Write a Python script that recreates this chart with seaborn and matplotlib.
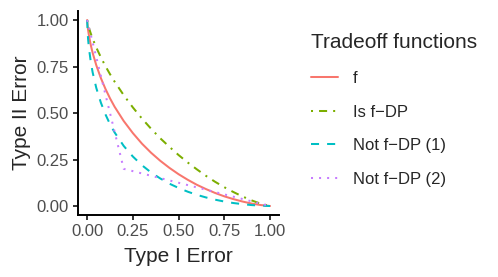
import matplotlib
matplotlib.use("Agg")
import matplotlib.pyplot as plt
import seaborn as sns
import pandas as pd

# values
grid = [0, 0.005, 0.01, 0.02, 0.03, 0.05, 0.075, 0.1, 0.125, 0.15, 0.2, 0.25, 0.3,
        0.35, 0.4, 0.45, 0.5, 0.55, 0.6, 0.65, 0.7, 0.75, 0.8, 0.85, 0.9, 0.95, 1.0]
f_vals = [1.0, 0.948, 0.916, 0.865, 0.824, 0.757, 0.688, 0.630, 0.579, 0.534, 0.457,
          0.392, 0.335, 0.286, 0.243, 0.205, 0.171, 0.141, 0.114, 0.091, 0.070, 0.052,
          0.037, 0.024, 0.013, 0.005, 0.0]
is_vals = [1.0, 0.976, 0.958, 0.927, 0.900, 0.852, 0.800, 0.752, 0.709, 0.669, 0.596,
           0.530, 0.470, 0.415, 0.364, 0.318, 0.274, 0.234, 0.197, 0.162, 0.130, 0.101,
           0.075, 0.051, 0.030, 0.012, 0.0]
not1_vals = [1.0, 0.899, 0.848, 0.775, 0.719, 0.635, 0.556, 0.493, 0.440, 0.396, 0.323,
             0.266, 0.219, 0.180, 0.148, 0.120, 0.097, 0.077, 0.060, 0.046, 0.034, 0.024,
             0.016, 0.010, 0.005, 0.002, 0.0]
not2_x = [0.0, 0.2, 1.0]
not2_vals = [1.0, 0.2, 0.0]

names = ["f", "Is f\u2212DP", "Not f\u2212DP (1)", "Not f\u2212DP (2)"]
colors = ["#F8766D", "#7CAE00", "#00BFC4", "#C77CFF"]
dash_styles = ["", (1, 3, 4, 3), (4, 4), (1, 3)]
ticks = [0, 0.25, 0.5, 0.75, 1.0]
tick_labels = ["0.00", "0.25", "0.50", "0.75", "1.00"]

frames = []
for name, xs, ys in [(names[0], grid, f_vals), (names[1], grid, is_vals),
                     (names[2], grid, not1_vals), (names[3], not2_x, not2_vals)]:
    frames.append(pd.DataFrame({"alpha": xs, "beta": ys, "curve": name}))
df = pd.concat(frames, ignore_index=True)

sns.set_style("ticks")
plt.rcParams["font.family"] = ["Liberation Sans", "DejaVu Sans"]

fig = plt.figure(figsize=(4.98, 2.77), dpi=100)
ax = fig.add_axes([0.1566, 0.2227, 0.4040, 0.7386])

sns.lineplot(data=df, x="alpha", y="beta", hue="curve", style="curve",
             hue_order=names, style_order=names,
             palette=dict(zip(names, colors)), dashes=dict(zip(names, dash_styles)),
             estimator=None, linewidth=1.45, ax=ax)

ax.set_xlim(-0.05, 1.05)
ax.set_ylim(-0.05, 1.05)
ax.set_xticks(ticks)
ax.set_xticklabels(tick_labels)
ax.set_yticks(ticks)
ax.set_yticklabels(tick_labels)
ax.set_xlabel("Type I Error", fontsize=15, labelpad=5.5)
ax.set_ylabel("Type II Error", fontsize=15, labelpad=4)
ax.tick_params(axis="both", labelsize=12, labelcolor="#4D4D4D", color="#333333",
               length=3.75, width=1.4)
ax.tick_params(axis="x", pad=2.5)
ax.tick_params(axis="y", pad=3)
for side in ["left", "bottom"]:
    ax.spines[side].set_linewidth(1.4)
    ax.spines[side].set_color("black")
sns.despine(ax=ax)

sns.move_legend(ax, loc="upper left", bbox_to_anchor=(0.625, 0.88),
                bbox_transform=fig.transFigure, frameon=False,
                title="Tradeoff functions", title_fontsize=15, fontsize=12,
                handlelength=1.6, handletextpad=0.9, labelspacing=1.12,
                borderpad=0, borderaxespad=0, alignment="left")

fig.savefig("out.png", dpi=100)
